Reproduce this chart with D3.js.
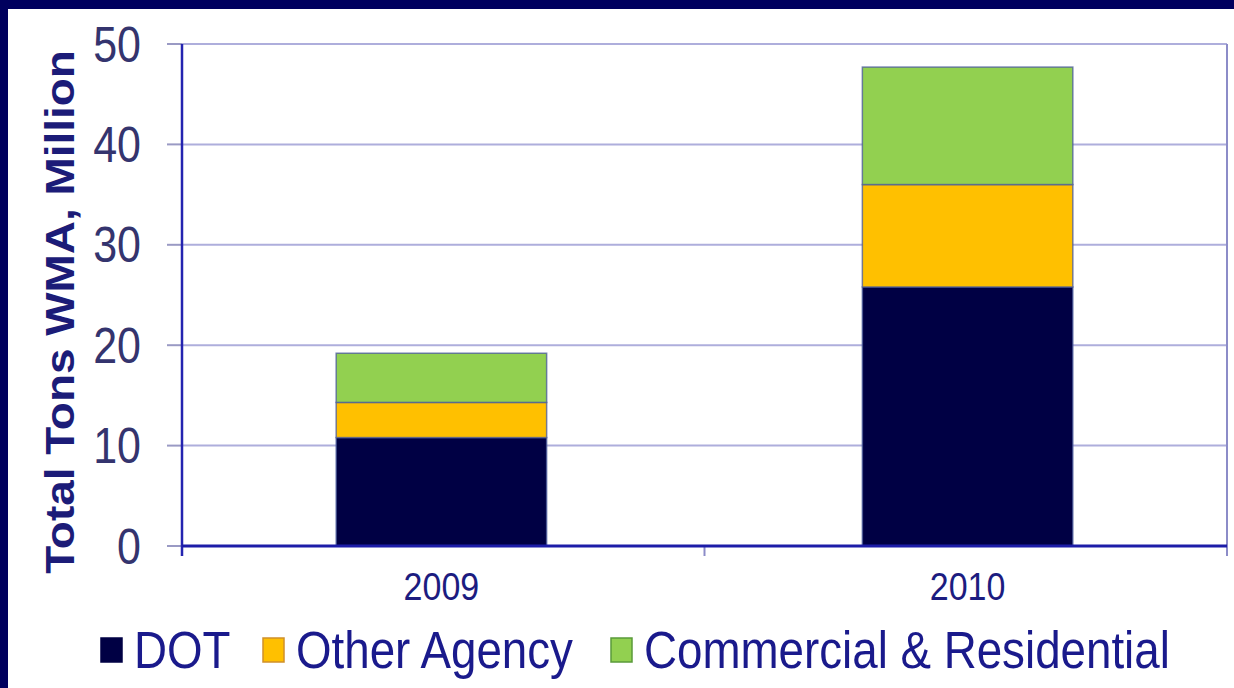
<!DOCTYPE html>
<html>
<head>
<meta charset="utf-8">
<script src="https://cdn.jsdelivr.net/npm/d3@7"></script>
<style>
  html, body { margin: 0; padding: 0; background: #fff; }
  svg { display: block; font-family: Arial, "Liberation Sans", sans-serif; }
</style>
</head>
<body>
<div id="chart"></div>
<script>
// data (million tons)
const years = ["2009", "2010"];
const seriesNames = ["DOT", "Other Agency", "Commercial & Residential"];
const dot = [10.8, 25.8];
const otherAgency = [3.5, 10.2];
const commercial = [4.9, 11.7];
const yTicks = [0, 10, 20, 30, 40, 50];
const colors = ["#000044", "#ffc000", "#92d050"];
const legendStroke = ["#000044", "#d0902a", "#5a9a3a"];

const W = 1234, H = 688;
const plot = { left: 182, right: 1227, top: 44, bottom: 546 };
const stretch = 1.14; // the source image is a bit taller than wide

const rows = years.map((y, i) => ({
  year: y,
  "DOT": dot[i],
  "Other Agency": otherAgency[i],
  "Commercial & Residential": commercial[i]
}));

const svg = d3.select('#chart').append('svg')
  .attr('width', W).attr('height', H);

// navy frame of the slide
svg.append('rect').attr('x', 0).attr('y', 0).attr('width', W).attr('height', 9).attr('fill', '#00005e');
svg.append('rect').attr('x', 0).attr('y', 0).attr('width', 8).attr('height', H).attr('fill', '#00005e');

var x = d3.scaleBand().domain(years).range([plot.left, plot.right]).paddingInner(0.6).paddingOuter(0.293);
var xOuter = d3.scaleBand().domain(years).range([plot.left, plot.right]);
var y = d3.scaleLinear().domain([0, 50]).range([plot.bottom, plot.top]);

// gridlines
svg.append('g').selectAll('line').data(yTicks.filter(d => d > 0)).join('line')
  .attr('x1', plot.left).attr('x2', plot.right)
  .attr('y1', d => y(d)).attr('y2', d => y(d))
  .attr('stroke', '#aeaedc').attr('stroke-width', 2);

// right frame line
svg.append('line').attr('x1', plot.right).attr('x2', plot.right)
  .attr('y1', plot.top).attr('y2', plot.bottom + 10)
  .attr('stroke', '#8c8cc8').attr('stroke-width', 2);

// y tick marks
svg.append('g').selectAll('line').data(yTicks).join('line')
  .attr('x1', plot.left - 15).attr('x2', plot.left)
  .attr('y1', d => y(d)).attr('y2', d => y(d))
  .attr('stroke', '#9a9ac4').attr('stroke-width', 2);

// x tick marks at category boundaries
var bounds = years.map(d => xOuter(d)).concat([plot.right]);
svg.append('g').selectAll('line').data(bounds).join('line')
  .attr('x1', d => d).attr('x2', d => d)
  .attr('y1', plot.bottom).attr('y2', plot.bottom + 10)
  .attr('stroke', '#8c8cc8').attr('stroke-width', 2);

// stacked bars
var stack = d3.stack().keys(seriesNames)(rows);
svg.append('g').selectAll('g').data(stack).join('g')
  .attr('fill', (d, i) => colors[i])
  .selectAll('rect').data(d => d).join('rect')
  .attr('x', d => x(d.data.year))
  .attr('width', x.bandwidth())
  .attr('y', d => y(d[1]))
  .attr('height', d => y(d[0]) - y(d[1]))
  .attr('stroke', '#4a5a9a').attr('stroke-opacity', 0.75).attr('stroke-width', 1.5);

// axes lines
svg.append('line').attr('x1', plot.left).attr('x2', plot.left)
  .attr('y1', plot.top).attr('y2', plot.bottom + 10)
  .attr('stroke', '#2424b0').attr('stroke-width', 2.5);
svg.append('line').attr('x1', plot.left).attr('x2', plot.right)
  .attr('y1', plot.bottom).attr('y2', plot.bottom)
  .attr('stroke', '#1c1ca8').attr('stroke-width', 3);

// y tick labels
var yFont = 43;
svg.append('g').selectAll('text').data(yTicks).join('text')
  .attr('transform', d => 'translate(' + (plot.left - 41) + ',' + (y(d) + yFont * 0.716 * stretch / 2) + ') scale(1,' + stretch + ')')
  .attr('text-anchor', 'end')
  .attr('font-size', yFont)
  .attr('fill', '#34346e')
  .text(d => d);

// x labels
var xFont = 34;
svg.append('g').selectAll('text').data(years).join('text')
  .attr('transform', d => 'translate(' + (x(d) + x.bandwidth() / 2) + ',600) scale(1,' + stretch + ')')
  .attr('text-anchor', 'middle')
  .attr('font-size', xFont)
  .attr('fill', '#1c1c80')
  .text(d => d);

// y axis title
svg.append('text')
  .attr('transform', 'translate(74,312) rotate(-90) scale(1.12,1)')
  .attr('text-anchor', 'middle')
  .attr('font-size', 41)
  .attr('font-weight', 'bold')
  .attr('fill', '#1c1c78')
  .text('Total Tons WMA, Million');

// legend
var legX = [100, 262, 610];
var leg = svg.append('g').selectAll('g').data(seriesNames).join('g')
  .attr('transform', (d, i) => 'translate(' + legX[i] + ',0)');
leg.append('rect')
  .attr('x', 1).attr('y', 638).attr('width', 21).attr('height', 24)
  .attr('fill', (d, i) => colors[i])
  .attr('stroke', (d, i) => legendStroke[i]).attr('stroke-width', 1.5);
leg.append('text')
  .attr('transform', 'translate(34,668) scale(1.005,' + stretch + ')')
  .attr('font-size', 45.5)
  .attr('fill', '#1a1a8c')
  .text(d => d);
</script>
</body>
</html>
